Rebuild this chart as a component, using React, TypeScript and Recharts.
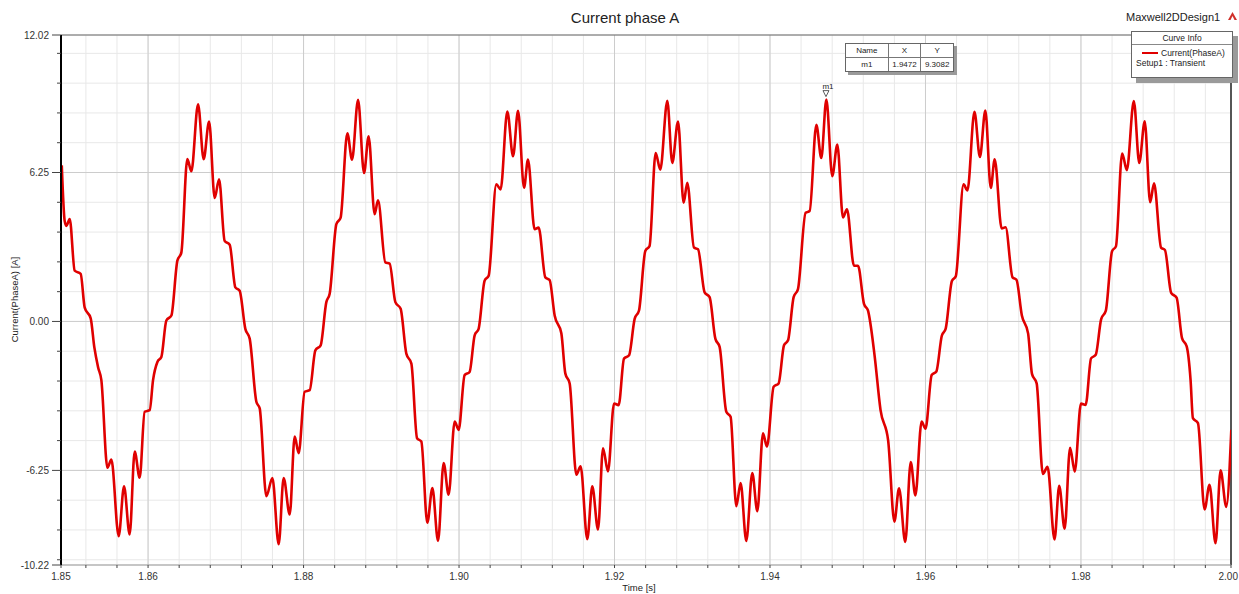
import React from "react";
import {
  LineChart,
  Line,
  XAxis,
  YAxis,
  CartesianGrid,
  ReferenceLine,
  ReferenceDot,
} from "recharts";

// time [s], current [A] pairs, one array per electrical cycle
const cycle1: [number, number][] = [
  [1.8489, 6.55], [1.84927, 4.22], [1.84949, 4.01], [1.84992, 4.3], [1.85056, 2.13],
  [1.85133, 2.0], [1.85185, 0.58], [1.85262, 0.13], [1.85309, -1.09], [1.85357, -1.92],
  [1.85399, -2.46], [1.85477, -6.14], [1.85528, -5.8], [1.85622, -9.01], [1.85691, -6.92],
  [1.85763, -8.94], [1.85828, -5.46], [1.85892, -6.56], [1.85956, -3.79], [1.86021, -3.72],
  [1.86064, -2.46], [1.8612, -1.7], [1.86171, -1.49], [1.86235, 0.04], [1.863, 0.25],
  [1.86377, 2.55], [1.86428, 2.89], [1.86505, 6.81], [1.86557, 6.3], [1.86643, 9.11],
  [1.86715, 6.81], [1.86785, 8.39], [1.86857, 5.18], [1.86913, 5.97], [1.86985, 3.38],
  [1.8705, 3.22], [1.87123, 1.43], [1.87178, 1.29],
];
const cycle2: [number, number][] = [
  [1.87251, -0.31], [1.87307, -0.72], [1.87393, -3.37], [1.87436, -3.65], [1.87522, -7.33],
  [1.87599, -6.57], [1.8768, -9.35], [1.87744, -6.57], [1.87822, -8.1], [1.87886, -4.83],
  [1.87937, -5.53], [1.88014, -2.95], [1.88079, -2.88], [1.88152, -1.21], [1.8822, -1.0],
  [1.88293, 0.81], [1.88336, 1.16], [1.88422, 4.08], [1.88477, 4.36], [1.88563, 7.9],
  [1.88624, 6.79], [1.88701, 9.3], [1.88778, 6.23], [1.88837, 7.77], [1.88914, 4.5],
  [1.88958, 5.08], [1.89052, 2.48], [1.89107, 2.43], [1.89181, 0.81], [1.89249, 0.53],
];
const cycle3: [number, number][] = [
  [1.89322, -1.35], [1.89387, -1.77], [1.8946, -4.9], [1.89515, -5.04], [1.89592, -8.45],
  [1.89657, -6.99], [1.8973, -9.21], [1.89802, -5.94], [1.89866, -7.27], [1.89944, -4.2],
  [1.89995, -4.55], [1.90072, -2.25], [1.90136, -2.12], [1.90201, -0.58], [1.90252, -0.31],
  [1.90329, 1.71], [1.90381, 1.92], [1.9048, 5.75], [1.90535, 5.54], [1.90621, 8.81],
  [1.90695, 6.93], [1.90759, 8.84], [1.90836, 5.61], [1.90887, 6.79], [1.90972, 3.87],
  [1.91024, 3.94], [1.9111, 1.85], [1.91165, 1.74], [1.9123, 0.25],
];
const cycle4: [number, number][] = [
  [1.91316, -0.5], [1.91367, -2.18], [1.91423, -2.6], [1.91509, -6.43], [1.91564, -6.08],
  [1.9165, -9.14], [1.91714, -6.92], [1.91788, -8.73], [1.91852, -5.32], [1.91916, -6.29],
  [1.91994, -3.44], [1.92053, -3.51], [1.92122, -1.56], [1.92187, -1.42], [1.92259, 0.11],
  [1.92315, 0.46], [1.92396, 2.96], [1.92451, 3.17], [1.92529, 7.07], [1.92589, 6.37],
  [1.92679, 9.26], [1.92743, 6.65], [1.92817, 8.39], [1.92889, 4.98], [1.92936, 5.82],
  [1.93022, 3.1], [1.93074, 3.03], [1.93159, 1.22], [1.93223, 1.02],
];
const cycle5: [number, number][] = [
  [1.93297, -0.72], [1.93352, -1.07], [1.93438, -3.79], [1.93493, -4.0], [1.93567, -7.75],
  [1.93622, -6.78], [1.93695, -9.21], [1.93772, -6.36], [1.93837, -7.96], [1.9391, -4.69],
  [1.93961, -5.25], [1.94047, -2.74], [1.94111, -2.6], [1.9418, -1.0], [1.94232, -0.79],
  [1.94304, 1.02], [1.9436, 1.36], [1.94458, 4.56], [1.9451, 4.63], [1.94596, 8.25],
  [1.9466, 6.86], [1.94725, 9.31], [1.94801, 6.1], [1.94866, 7.42], [1.94939, 4.36],
  [1.9499, 4.71], [1.9508, 2.34], [1.95132, 2.34], [1.95209, 0.74], [1.9526, 0.46],
];
const cycle6: [number, number][] = [
  [1.95345, -1.42], [1.95422, -3.72], [1.9552, -5.0], [1.956, -8.4], [1.9566, -7.0],
  [1.9574, -9.25], [1.9581, -5.9], [1.9587, -7.3], [1.9595, -4.2], [1.96, -4.5],
  [1.9608, -2.25], [1.9614, -2.1], [1.9621, -0.6], [1.9626, -0.3], [1.9634, 1.7],
  [1.9639, 1.9], [1.9649, 5.75], [1.9654, 5.5], [1.9663, 8.8], [1.967, 6.9],
  [1.9677, 8.85], [1.9684, 5.6], [1.9689, 6.8], [1.9698, 3.9], [1.9703, 3.95],
  [1.9712, 1.85], [1.9717, 1.75], [1.9724, 0.25],
];
const cycle7: [number, number][] = [
  [1.9732, -0.5], [1.9737, -2.2], [1.9743, -2.6], [1.9751, -6.4], [1.9757, -6.1],
  [1.9766, -9.15], [1.9772, -6.9], [1.9779, -8.7], [1.9786, -5.3], [1.9792, -6.3],
  [1.98, -3.45], [1.9806, -3.5], [1.9813, -1.55], [1.9819, -1.4], [1.9826, 0.1],
  [1.9832, 0.45], [1.984, 2.95], [1.9845, 3.15], [1.9853, 7.05], [1.9859, 6.35],
  [1.9868, 9.25], [1.9875, 6.65], [1.9882, 8.4], [1.9889, 5.0], [1.9894, 5.8],
  [1.9903, 3.1], [1.9908, 3.0], [1.9916, 1.2], [1.9923, 1.0],
];
const cycle8: [number, number][] = [
  [1.993, -0.7], [1.9936, -1.05], [1.9941, -2.46], [1.9944, -4.06], [1.99505, -4.27],
  [1.9959, -7.89], [1.99654, -6.85], [1.99731, -9.31], [1.99796, -6.25], [1.99869, -7.78],
  [1.99934, -4.55],
];

const X_MIN = 1.8488;
const X_MAX = 1.9993;
const Y_MIN = -10.22;
const Y_MAX = 12.02;
const xMajorTicks = [1.86, 1.88, 1.9, 1.92, 1.94, 1.96, 1.98];
const yMajorTicks = [-6.25, 0, 6.25];
const marker = { name: "m1", t: 1.9472, i: 9.3082 };

const data = [
  ...cycle1, ...cycle2, ...cycle3, ...cycle4,
  ...cycle5, ...cycle6, ...cycle7, ...cycle8,
].map(([t, i]) => ({ t, i }));

// minor ticks every 0.004 s and 1.25 A
const xTicks: number[] = [X_MIN];
for (let k = 463; k <= 499; k++) xTicks.push(+(k * 0.004).toFixed(3));
xTicks.push(X_MAX);
const yTicks: number[] = [Y_MIN];
for (let k = -8; k <= 9; k++) yTicks.push(k * 1.25);
yTicks.push(Y_MAX);

const FONT = "'Liberation Sans', Arial, sans-serif";

const isMajorX = (v: number) =>
  v === X_MIN || v === X_MAX || Math.abs(v * 50 - Math.round(v * 50)) < 1e-6;
const isMajorY = (v: number) =>
  v === Y_MIN || v === Y_MAX || Math.abs(v / 6.25 - Math.round(v / 6.25)) < 1e-6;

const XTick = (props: any) => {
  const { x, y, payload } = props;
  const v = payload.value as number;
  const major = isMajorX(v);
  const last = v === X_MAX;
  return (
    <g>
      <line x1={x} x2={x} y1={y} y2={y + 3} stroke="#444" />
      {major && (
        <text
          x={last ? x + 7 : x}
          y={y + 15}
          textAnchor={last ? "end" : "middle"}
          fontSize={10}
          fill="#333"
          fontFamily={FONT}
        >
          {v.toFixed(2)}
        </text>
      )}
    </g>
  );
};

const YTick = (props: any) => {
  const { x, y, payload } = props;
  const v = payload.value as number;
  const major = isMajorY(v);
  return (
    <g>
      <line x1={x - (major ? 9 : 4)} x2={x} y1={y} y2={y} stroke="#444" />
      {major && (
        <text x={x - 12} y={y + 3.5} textAnchor="end" fontSize={10} fill="#333" fontFamily={FONT}>
          {v.toFixed(2)}
        </text>
      )}
    </g>
  );
};

const MarkerShape = (props: any) => {
  const { cx, cy } = props;
  return (
    <g>
      <polygon
        points={`${cx - 3},${cy - 9} ${cx + 3},${cy - 9} ${cx},${cy - 3}`}
        fill="#fff"
        stroke="#333"
        strokeWidth={0.8}
      />
      <text x={cx + 2} y={cy - 11} textAnchor="middle" fontSize={8} fill="#222" fontFamily={FONT}>
        {marker.name}
      </text>
    </g>
  );
};

const cell: React.CSSProperties = {
  borderRight: "1px solid #777",
  textAlign: "center",
  lineHeight: "13px",
};

export default function App() {
  return (
    <div style={{ position: "relative", width: 1239, height: 594, background: "#fff", fontFamily: FONT }}>
      <style>{"body{margin:0}"}</style>
      <LineChart width={1239} height={594} data={data} margin={{ top: 35, right: 8, bottom: 0, left: 0 }}>
        <CartesianGrid stroke="#e8e8e8" strokeWidth={1} />
        {xMajorTicks.map((v) => (
          <ReferenceLine key={"gx" + v} x={v} stroke="#cccccc" />
        ))}
        {yMajorTicks.map((v) => (
          <ReferenceLine key={"gy" + v} y={v} stroke="#cccccc" />
        ))}
        <ReferenceLine y={Y_MAX} stroke="#666" />
        <ReferenceLine x={X_MAX} stroke="#222" strokeWidth={1.5} />
        <XAxis
          type="number"
          dataKey="t"
          domain={[X_MIN, X_MAX]}
          ticks={xTicks}
          interval={0}
          height={29}
          tickSize={0}
          tickMargin={0}
          allowDataOverflow
          axisLine={{ stroke: "#999" }}
          tick={(p: any) => <XTick {...p} />}
        />
        <YAxis
          type="number"
          domain={[Y_MIN, Y_MAX]}
          ticks={yTicks}
          interval={0}
          width={61}
          tickSize={0}
          tickMargin={0}
          allowDataOverflow
          axisLine={{ stroke: "#000", strokeWidth: 2 }}
          tick={(p: any) => <YTick {...p} />}
        />
        <Line
          type="monotone"
          dataKey="i"
          stroke="#e00000"
          strokeWidth={2.6}
          dot={false}
          isAnimationActive={false}
        />
        <ReferenceDot x={marker.t} y={marker.i} r={0} shape={(p: any) => <MarkerShape {...p} />} />
      </LineChart>

      {/* title and design name */}
      <div style={{ position: "absolute", left: 525, top: 9, width: 200, textAlign: "center", fontSize: 15, color: "#222" }}>
        Current phase A
      </div>
      <div style={{ position: "absolute", left: 1126, top: 11, fontSize: 11, color: "#222" }}>
        Maxwell2DDesign1
      </div>
      <svg style={{ position: "absolute", left: 1228, top: 12 }} width={9} height={9}>
        <polygon points="4.5,0 9,8 6.5,8 4.5,4 2.5,8 0,8" fill="#d0302a" />
      </svg>

      {/* axis titles */}
      <div style={{ position: "absolute", left: 634 - 40, top: 582, width: 90, textAlign: "center", fontSize: 9.5, color: "#222" }}>
        Time [s]
      </div>
      <div
        style={{
          position: "absolute",
          left: 14 - 60,
          top: 300 - 6,
          width: 120,
          textAlign: "center",
          fontSize: 9.5,
          color: "#222",
          transform: "rotate(-90deg)",
        }}
      >
        Current(PhaseA) [A]
      </div>

      {/* marker table */}
      <div
        style={{
          position: "absolute",
          left: 845,
          top: 43,
          width: 107,
          border: "1px solid #666",
          background: "#fff",
          boxShadow: "3px 3px 0 #9a9a9a",
          fontSize: 8,
          color: "#222",
        }}
      >
        <div style={{ display: "flex", borderBottom: "1px solid #777" }}>
          <div style={{ ...cell, width: 42 }}>Name</div>
          <div style={{ ...cell, width: 32 }}>X</div>
          <div style={{ ...cell, width: 32, borderRight: "none" }}>Y</div>
        </div>
        <div style={{ display: "flex" }}>
          <div style={{ ...cell, width: 42 }}>{marker.name}</div>
          <div style={{ ...cell, width: 32 }}>{marker.t.toFixed(4)}</div>
          <div style={{ ...cell, width: 32, borderRight: "none" }}>{marker.i.toFixed(4)}</div>
        </div>
      </div>

      {/* curve info legend */}
      <div
        style={{
          position: "absolute",
          left: 1131,
          top: 31,
          width: 100,
          height: 45,
          border: "1px solid #666",
          background: "#fff",
          boxShadow: "5px 5px 0 #9a9a9a",
          fontSize: 8.5,
          color: "#222",
        }}
      >
        <div style={{ textAlign: "center", lineHeight: "12px", borderBottom: "1px solid #888" }}>Curve Info</div>
        <div style={{ display: "flex", alignItems: "center", marginTop: 3, lineHeight: "10px" }}>
          <span style={{ display: "inline-block", width: 16, height: 2, background: "#e00000", marginLeft: 10, marginRight: 3 }} />
          <span>Current(PhaseA)</span>
        </div>
        <div style={{ marginLeft: 4, lineHeight: "10px" }}>Setup1 : Transient</div>
      </div>
    </div>
  );
}
